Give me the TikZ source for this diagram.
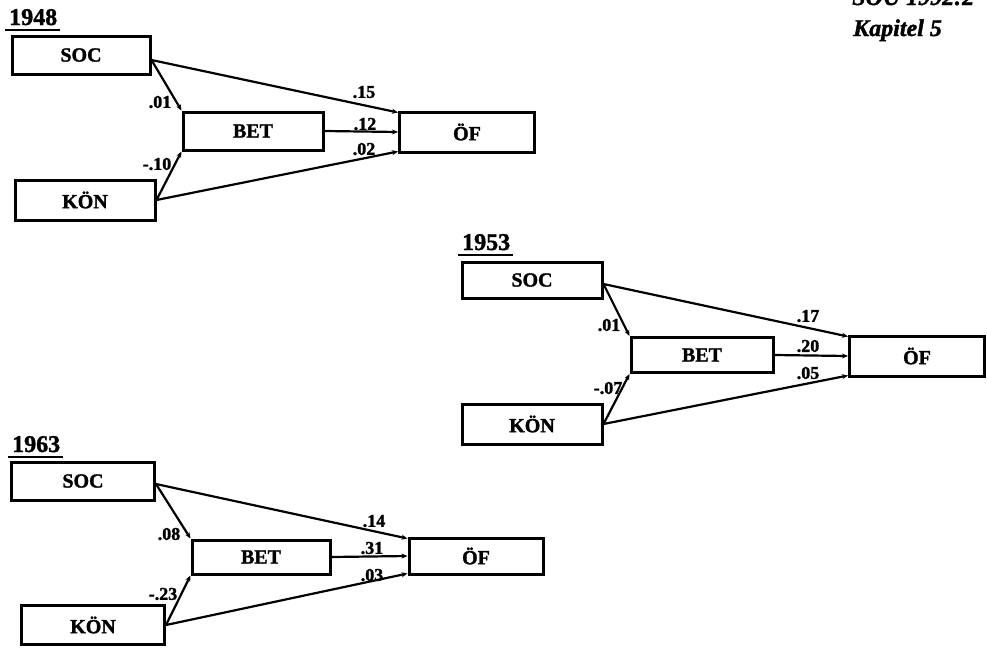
\documentclass[tikz,border=0pt]{standalone}
\usepackage{fontspec}
\setmainfont{Liberation Serif}[BoldFeatures={FakeBold=1.5},BoldItalicFeatures={FakeBold=1.5}]
\usetikzlibrary{arrows.meta}
\begin{document}
\begin{tikzpicture}[x=1pt,y=-1pt,
  box/.style={draw,line width=3pt,inner sep=0pt,font=\bfseries\fontsize{20}{20}\selectfont},
  yr/.style={font=\bfseries\fontsize{24}{24}\selectfont,inner sep=0pt,anchor=base west},
  lab/.style={font=\bfseries\fontsize{18}{18}\selectfont,inner sep=0pt},
  conn/.style={line width=2.2pt,-{Stealth[length=6pt,width=5pt]}},
  uline/.style={line width=2.2pt},
  hdr/.style={font=\bfseries\itshape\fontsize{24}{24}\selectfont,inner sep=0pt,anchor=base west}
]
\clip (0,0) rectangle (987,651);
\fill[white] (0,0) rectangle (987,651);

% header
\node[hdr] (sou) at (852,5) {SOU 1992:2};
\node[hdr] (kap) at (853,36) {Kapitel 5};

% ---------- 1948 ----------
\node[yr] (y1) at (9,25) {1948};
\draw[uline] ([xshift=-4pt,yshift=-5pt]y1.base west) -- ([xshift=3pt,yshift=-5pt]y1.base east);
\node[box,minimum width=138pt,minimum height=38pt] (s1) at (81,55) {SOC};
\node[box,minimum width=140pt,minimum height=38pt] (b1) at (253,131) {BET};
\node[box,minimum width=135pt,minimum height=40pt] (o1) at (467,132) {ÖF};
\node[box,minimum width=140pt,minimum height=40pt] (k1) at (85,200) {KÖN};
\draw[conn] ([yshift=-5pt]s1.east) -- ([yshift=-2pt]o1.north west);
\draw[conn] (b1.east) -- (o1.west);
\draw[conn] (k1.east) -- ([yshift=2pt]o1.south west);
\draw[conn] ([yshift=-5pt]s1.east) -- (b1.north west);
\draw[conn] (k1.east) -- (b1.south west);
\node[lab] (l1a) at (364,92) {.15};
\node[lab] (l1b) at (365,124) {.12};
\node[lab] (l1c) at (364,149) {.02};
\node[lab] (l1d) at (160,102) {.01};
\node[lab] (l1e) at (157,164) {-.10};

% ---------- 1953 ----------
\node[yr] (y2) at (462,250) {1953};
\draw[uline] ([xshift=-4pt,yshift=-5pt]y2.base west) -- ([xshift=3pt,yshift=-5pt]y2.base east);
\node[box,minimum width=140pt,minimum height=36pt] (s2) at (532,280) {SOC};
\node[box,minimum width=142pt,minimum height=35pt] (b2) at (702,355) {BET};
\node[box,minimum width=135pt,minimum height=40pt] (o2) at (917,356) {ÖF};
\node[box,minimum width=140pt,minimum height=40pt] (k2) at (532,424) {KÖN};
\draw[conn] ([yshift=-4pt]s2.east) -- ([yshift=-2pt]o2.north west);
\draw[conn] (b2.east) -- (o2.west);
\draw[conn] (k2.east) -- ([yshift=2pt]o2.south west);
\draw[conn] ([yshift=-4pt]s2.east) -- (b2.north west);
\draw[conn] (k2.east) -- (b2.south west);
\node[lab] (l2a) at (808,316) {.17};
\node[lab] (l2b) at (808,346) {.20};
\node[lab] (l2c) at (808,373) {.05};
\node[lab] (l2d) at (609,325) {.01};
\node[lab] (l2e) at (608,388) {-.07};

% ---------- 1963 ----------
\node[yr] (y3) at (12,452) {1963};
\draw[uline] ([xshift=-4pt,yshift=-5pt]y3.base west) -- ([xshift=3pt,yshift=-5pt]y3.base east);
\node[box,minimum width=143pt,minimum height=38pt] (s3) at (83,481) {SOC};
\node[box,minimum width=138pt,minimum height=34pt] (b3) at (261,557) {BET};
\node[box,minimum width=134pt,minimum height=36pt] (o3) at (476,556) {ÖF};
\node[box,minimum width=143pt,minimum height=39pt] (k3) at (93,625) {KÖN};
\draw[conn] ([yshift=-3pt]s3.east) -- ([yshift=-2pt]o3.north west);
\draw[conn] (b3.east) -- (o3.west);
\draw[conn] (k3.east) -- ([yshift=2pt]o3.south west);
\draw[conn] ([yshift=-3pt]s3.east) -- (b3.north west);
\draw[conn] (k3.east) -- (b3.south west);
\node[lab] (l3a) at (374,521) {.14};
\node[lab] (l3b) at (372,548) {.31};
\node[lab] (l3c) at (372,575) {.03};
\node[lab] (l3d) at (169,534) {.08};
\node[lab] (l3e) at (163,594) {-.23};
\end{tikzpicture}
\end{document}
